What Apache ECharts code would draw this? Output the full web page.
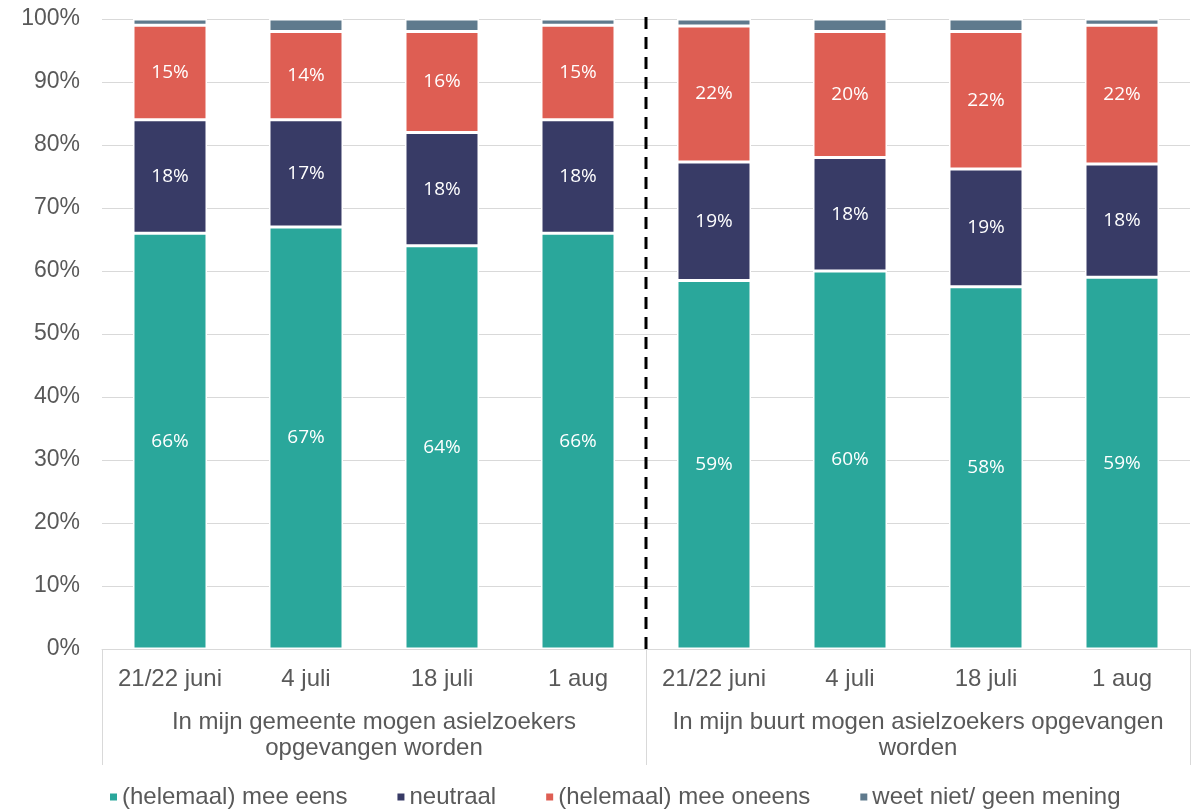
<!DOCTYPE html>
<html><head><meta charset="utf-8">
<script src="https://cdn.jsdelivr.net/npm/echarts@6/dist/echarts.min.js"></script>
<style>html,body{margin:0;padding:0;background:#fff}#c{width:1192px;height:809px}</style>
</head><body><div id="c"></div>
<script>
const categories = ['21/22 juni','4 juli','18 juli','1 aug','21/22 juni','4 juli','18 juli','1 aug'];
const groups = ['In mijn gemeente mogen asielzoekers\nopgevangen worden','In mijn buurt mogen asielzoekers opgevangen\nworden'];
const seriesNames = ['(helemaal) mee eens','neutraal','(helemaal) mee oneens','weet niet/ geen mening'];
const meeEens   = [66, 67, 64, 66, 58.5, 60, 57.5, 59];
const neutraal  = [18, 17, 18, 18, 18.8, 18, 18.7, 18];
const meeOneens = [15, 14, 16, 15, 21.6, 20, 21.8, 22];
const weetNiet  = [1, 2, 2, 1, 1.1, 2, 2, 1];
const colors = ['#2AA79B','#383B66','#DE5E53','#5F7A8D'];
const yTicks = {min:0, max:100, interval:10};

const chart = echarts.init(document.getElementById('c'));
const dataSets = [meeEens, neutraal, meeOneens, weetNiet];
const barSeries = dataSets.map((d,i)=>({
  name: seriesNames[i], type:'bar', stack:'s', data:d, barWidth:74,
  xAxisIndex:0, yAxisIndex:0,
  itemStyle:{color:colors[i], borderColor:'#fff', borderWidth:1.5},
  label:{show:i<3, position:'inside', color:'#fff', fontSize:19, fontFamily:'Open Sans',
    formatter:p=>Math.round(p.value)+'%'},
  emphasis:{disabled:true}
}));
chart.setOption({
  animation:false,
  grid:{left:102, right:2, top:19, bottom:160, containLabel:false},
  legend:{bottom:0, left:108, padding:0, itemWidth:9, itemHeight:9, itemGap:48, icon:'rect',
    textStyle:{fontSize:24, color:'#595959', fontFamily:'Liberation Sans', padding:[0,0,0,-1]},
    data:seriesNames},
  xAxis:[
    {type:'category', data:categories, position:'bottom',
      axisLine:{lineStyle:{color:'#D9D9D9', width:1}}, axisTick:{show:false},
      axisLabel:{fontSize:24, color:'#595959', margin:18, fontFamily:'Liberation Sans', interval:0}},
    {type:'category', data:groups, position:'bottom',
      axisLine:{show:false},
      axisTick:{show:true, length:116, interval:0, lineStyle:{color:'#D9D9D9', width:1}},
      axisLabel:{fontSize:24, color:'#595959', margin:60, lineHeight:26, fontFamily:'Liberation Sans', interval:0}},
    {type:'value', min:0, max:8, show:false}
  ],
  yAxis:{type:'value', min:yTicks.min, max:yTicks.max, interval:yTicks.interval,
    axisLine:{show:false}, axisTick:{show:false},
    splitLine:{lineStyle:{color:'#D9D9D9', width:1}},
    axisLabel:{formatter:'{value}%', fontSize:23, color:'#595959', margin:22, fontFamily:'Liberation Sans'}},
  series: barSeries.concat([{
    type:'line', xAxisIndex:2, yAxisIndex:0, data:[[4,0],[4,101.5]], symbol:'none', clip:false, silent:true,
    lineStyle:{color:'#000', width:3, type:[12,8]}, z:10
  }])
});
</script></body></html>
